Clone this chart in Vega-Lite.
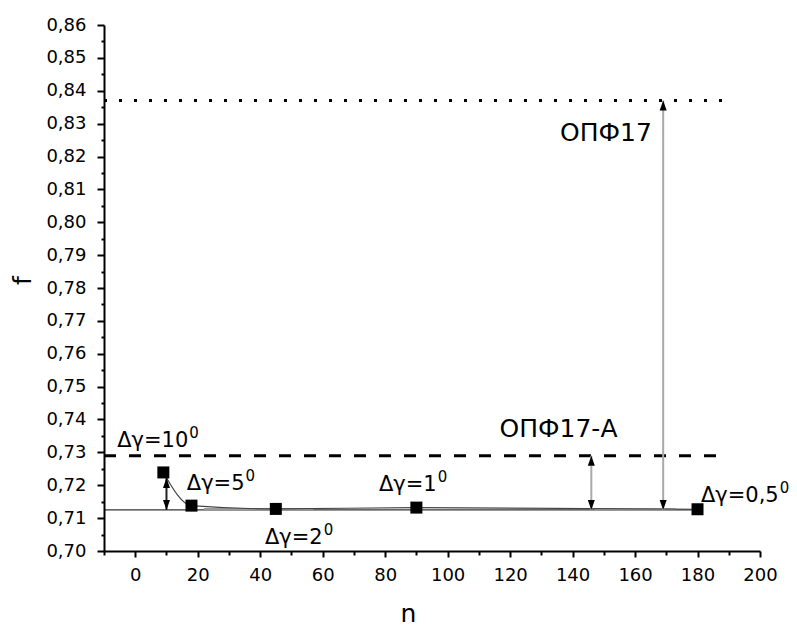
{
  "$schema": "https://vega.github.io/schema/vega-lite/v6.json",
  "autosize": {"type": "none"},
  "width": 656,
  "height": 526,
  "padding": {"left": 104, "top": 25, "right": 37, "bottom": 75},
  "background": "white",
  "config": {
    "view": {"stroke": null},
    "font": "DejaVu Sans",
    "axis": {"grid": false, "domainColor": "black", "domainWidth": 2, "tickColor": "black", "tickWidth": 2, "labelColor": "black", "titleColor": "black", "labelFont": "DejaVu Sans", "titleFont": "DejaVu Sans", "labelFontSize": 18, "titleFontSize": 25, "titleFontWeight": "normal", "labelOverlap": false, "labelBound": false, "labelFlush": false}
  },
  "datasets": {
    "points": [
      {"n": 9, "f": 0.7239},
      {"n": 18, "f": 0.7138},
      {"n": 45, "f": 0.7128},
      {"n": 90, "f": 0.7132},
      {"n": 180, "f": 0.7127}
    ],
    "levels": [
      {"level": "ОПФ17", "f": 0.837, "n0": -10, "n1": 188},
      {"level": "ОПФ17-А", "f": 0.729, "n0": -10, "n1": 188},
      {"level": "base", "f": 0.7125, "n0": -10, "n1": 180}
    ],
    "segments": [
      {"n0": 22, "n1": 57, "f": 0.7128},
      {"n0": 147, "n1": 173, "f": 0.7127}
    ],
    "arrows": [
      {"n": 10, "top": 0.7222, "bottom": 0.7125, "kind": "dark"},
      {"n": 146, "top": 0.729, "bottom": 0.7125, "kind": "light"},
      {"n": 169, "top": 0.837, "bottom": 0.7125, "kind": "light"}
    ],
    "steps": [
      {"n": 17, "f": 0.7317, "main": "Δγ=10", "sup": "0"},
      {"n": 35, "f": 0.7186, "main": "Δγ=5", "sup": "0"},
      {"n": 60, "f": 0.7021, "main": "Δγ=2", "sup": "0"},
      {"n": 96.5, "f": 0.7181, "main": "Δγ=1", "sup": "0"},
      {"n": 206, "f": 0.715, "main": "Δγ=0,5", "sup": "0"}
    ],
    "names": [
      {"n": 135.5, "f": 0.7348, "text": "ОПФ17-А"},
      {"n": 150.7, "f": 0.8247, "text": "ОПФ17"}
    ]
  },
  "layer": [
    {
      "data": {"name": "levels"},
      "transform": [{"filter": "datum.level === 'base'"}],
      "mark": {"type": "rule", "color": "black", "strokeWidth": 1},
      "encoding": {
        "x": {"field": "n0", "type": "quantitative", "scale": {"domain": [-10, 200], "nice": false, "zero": false},
          "axis": {
            "title": "n",
            "values": [-10, 0, 10, 20, 30, 40, 50, 60, 70, 80, 90, 100, 110, 120, 130, 140, 150, 160, 170, 180, 190, 200],
            "tickCount": 100,
            "format": "d",
            "labelExpr": "datum.value % 20 === 0 ? datum.label : ''",
            "tickSize": {"condition": {"test": "datum.value % 20 !== 0", "value": 4}, "value": 6},
            "labelPadding": 9,
            "titleX": 304,
            "titleY": 70,
            "titleBaseline": "alphabetic",
            "titleAlign": "center"
          }
        },
        "x2": {"field": "n1"},
        "y": {"field": "f", "type": "quantitative", "scale": {"domain": [0.7, 0.86], "nice": false, "zero": false},
          "axis": {
            "title": "f",
            "values": [0.7, 0.705, 0.71, 0.715, 0.72, 0.725, 0.73, 0.735, 0.74, 0.745, 0.75, 0.755, 0.76, 0.765, 0.77, 0.775, 0.78, 0.785, 0.79, 0.795, 0.8, 0.805, 0.81, 0.815, 0.82, 0.825, 0.83, 0.835, 0.84, 0.845, 0.85, 0.855, 0.86],
            "tickCount": 100,
            "labelExpr": "abs(round(datum.value * 200)) % 2 === 1 ? '' : replace(format(datum.value, '.2f'), '.', ',')",
            "tickSize": {"condition": {"test": "abs(round(datum.value * 200)) % 2 === 1", "value": 3}, "value": 7},
            "labelPadding": 11,
            "titleAngle": 270,
            "titleX": -82,
            "titleY": 255,
            "titleAlign": "center",
            "titleBaseline": "middle"
          }
        }
      }
    },
    {
      "data": {"name": "levels"},
      "transform": [{"filter": "datum.level === 'ОПФ17'"}],
      "mark": {"type": "rule", "color": "black", "strokeWidth": 3, "strokeDash": [3, 12]},
      "encoding": {
        "x": {"field": "n0", "type": "quantitative", "scale": {"domain": [-10, 200], "nice": false, "zero": false}},
        "x2": {"field": "n1"},
        "y": {"field": "f", "type": "quantitative", "scale": {"domain": [0.7, 0.86], "nice": false, "zero": false}}
      }
    },
    {
      "data": {"name": "levels"},
      "transform": [{"filter": "datum.level === 'ОПФ17-А'"}],
      "mark": {"type": "rule", "color": "black", "strokeWidth": 3, "strokeDash": [12, 13]},
      "encoding": {
        "x": {"field": "n0", "type": "quantitative", "scale": {"domain": [-10, 200], "nice": false, "zero": false}},
        "x2": {"field": "n1"},
        "y": {"field": "f", "type": "quantitative", "scale": {"domain": [0.7, 0.86], "nice": false, "zero": false}}
      }
    },
    {
      "data": {"name": "segments"},
      "mark": {"type": "rule", "color": "#9a9a9a", "strokeWidth": 2},
      "encoding": {
        "x": {"field": "n0", "type": "quantitative", "scale": {"domain": [-10, 200], "nice": false, "zero": false}},
        "x2": {"field": "n1"},
        "y": {"field": "f", "type": "quantitative", "scale": {"domain": [0.7, 0.86], "nice": false, "zero": false}}
      }
    },
    {
      "data": {"name": "points"},
      "mark": {"type": "line", "color": "#444444", "strokeWidth": 1.2, "interpolate": "monotone"},
      "encoding": {
        "x": {"field": "n", "type": "quantitative", "scale": {"domain": [-10, 200], "nice": false, "zero": false}},
        "y": {"field": "f", "type": "quantitative", "scale": {"domain": [0.7, 0.86], "nice": false, "zero": false}}
      }
    },
    {
      "data": {"name": "arrows"},
      "mark": {"type": "rule", "strokeWidth": 2},
      "encoding": {
        "x": {"field": "n", "type": "quantitative", "scale": {"domain": [-10, 200], "nice": false, "zero": false}},
        "y": {"field": "top", "type": "quantitative", "scale": {"domain": [0.7, 0.86], "nice": false, "zero": false}},
        "y2": {"field": "bottom"},
        "color": {"field": "kind", "type": "nominal", "scale": {"domain": ["dark", "light"], "range": ["#222222", "#aaaaaa"]}, "legend": null},
        "strokeWidth": {"field": "kind", "type": "nominal", "scale": {"domain": ["dark", "light"], "range": [1.2, 2]}, "legend": null}
      }
    },
    {
      "data": {"name": "arrows"},
      "mark": {"type": "point", "filled": true, "color": "black", "opacity": 1, "size": 100, "shape": "M0,0L0.7,2L-0.7,2Z"},
      "encoding": {
        "x": {"field": "n", "type": "quantitative", "scale": {"domain": [-10, 200], "nice": false, "zero": false}},
        "y": {"field": "top", "type": "quantitative", "scale": {"domain": [0.7, 0.86], "nice": false, "zero": false}}
      }
    },
    {
      "data": {"name": "arrows"},
      "mark": {"type": "point", "filled": true, "color": "black", "opacity": 1, "size": 100, "shape": "M0,0L0.7,-2L-0.7,-2Z"},
      "encoding": {
        "x": {"field": "n", "type": "quantitative", "scale": {"domain": [-10, 200], "nice": false, "zero": false}},
        "y": {"field": "bottom", "type": "quantitative", "scale": {"domain": [0.7, 0.86], "nice": false, "zero": false}}
      }
    },
    {
      "data": {"name": "points"},
      "mark": {"type": "point", "shape": "square", "filled": true, "color": "black", "opacity": 1, "size": 144},
      "encoding": {
        "x": {"field": "n", "type": "quantitative", "scale": {"domain": [-10, 200], "nice": false, "zero": false}},
        "y": {"field": "f", "type": "quantitative", "scale": {"domain": [0.7, 0.86], "nice": false, "zero": false}}
      }
    },
    {
      "data": {"name": "steps"},
      "mark": {"type": "text", "font": "DejaVu Sans", "fontSize": 21, "color": "black", "align": "right", "baseline": "alphabetic"},
      "encoding": {
        "x": {"field": "n", "type": "quantitative", "scale": {"domain": [-10, 200], "nice": false, "zero": false}},
        "y": {"field": "f", "type": "quantitative", "scale": {"domain": [0.7, 0.86], "nice": false, "zero": false}},
        "text": {"field": "main"}
      }
    },
    {
      "data": {"name": "steps"},
      "mark": {"type": "text", "font": "DejaVu Sans", "fontSize": 15, "color": "black", "align": "left", "baseline": "alphabetic", "dx": 1, "dy": -9},
      "encoding": {
        "x": {"field": "n", "type": "quantitative", "scale": {"domain": [-10, 200], "nice": false, "zero": false}},
        "y": {"field": "f", "type": "quantitative", "scale": {"domain": [0.7, 0.86], "nice": false, "zero": false}},
        "text": {"field": "sup"}
      }
    },
    {
      "data": {"name": "names"},
      "mark": {"type": "text", "font": "DejaVu Sans", "fontSize": 25, "color": "black", "align": "center", "baseline": "alphabetic"},
      "encoding": {
        "x": {"field": "n", "type": "quantitative", "scale": {"domain": [-10, 200], "nice": false, "zero": false}},
        "y": {"field": "f", "type": "quantitative", "scale": {"domain": [0.7, 0.86], "nice": false, "zero": false}},
        "text": {"field": "text"}
      }
    }
  ]
}
